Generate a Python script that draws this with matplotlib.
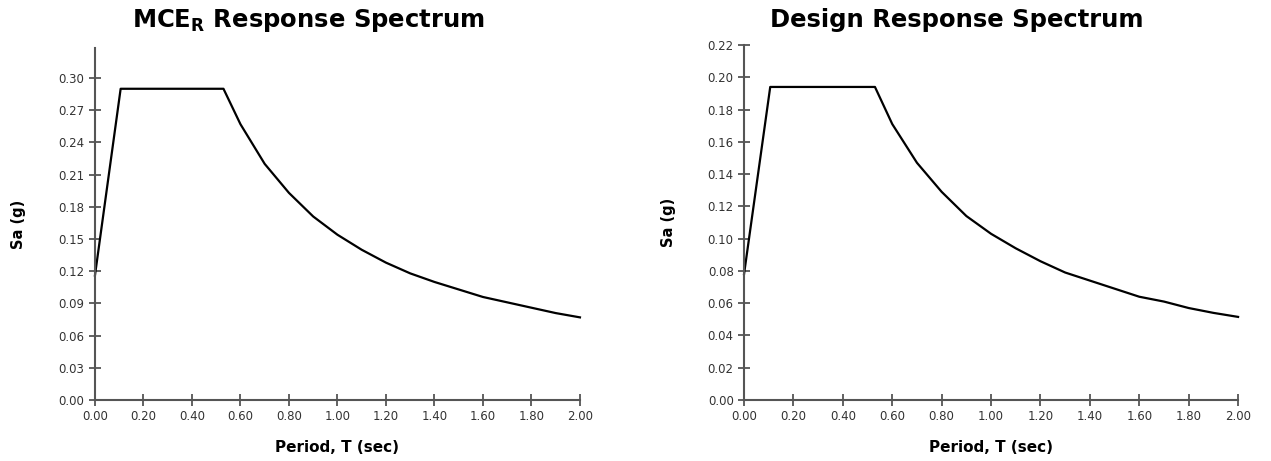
import numpy as np
import matplotlib
matplotlib.use("Agg")
import matplotlib.pyplot as plt

# ---------------- DATA ----------------
period = [0.0, 0.106, 0.53, 0.6, 0.7, 0.8, 0.9, 1.0, 1.1, 1.2, 1.3, 1.4, 1.5, 1.6, 1.7, 1.8, 1.9, 2.0]
sa_mce = [0.116, 0.290, 0.290, 0.257, 0.220, 0.193, 0.171, 0.154, 0.140, 0.128, 0.118, 0.110,
          0.103, 0.096, 0.091, 0.086, 0.081, 0.077]
sa_design = [0.078, 0.194, 0.194, 0.171, 0.147, 0.129, 0.114, 0.103, 0.094, 0.086, 0.079, 0.074,
             0.069, 0.064, 0.061, 0.057, 0.054, 0.0515]
x_ticks = [0.0, 0.2, 0.4, 0.6, 0.8, 1.0, 1.2, 1.4, 1.6, 1.8, 2.0]
mce_yticks = [0.00, 0.03, 0.06, 0.09, 0.12, 0.15, 0.18, 0.21, 0.24, 0.27, 0.30]
design_yticks = [0.00, 0.02, 0.04, 0.06, 0.08, 0.10, 0.12, 0.14, 0.16, 0.18, 0.20, 0.22]

# ---------------- PLOT ----------------
fig = plt.figure(figsize=(12.71, 4.61), dpi=100)
ax1 = fig.add_axes([0.0747, 0.1323, 0.3816, 0.7636])
ax2 = fig.add_axes([0.5854, 0.1323, 0.3887, 0.7701])

spine_col = "#555555"

def style_axis(ax, yticks, ylim_top, title, title_x, title_y):
    ax.set_xlim(0, 2.0)
    ax.set_ylim(0, ylim_top)
    ax.set_xticks(x_ticks)
    ax.set_yticks(yticks)
    ax.set_xticklabels([f"{v:.2f}" for v in x_ticks])
    ax.set_yticklabels([f"{v:.2f}" for v in yticks])
    for s in ["top", "right"]:
        ax.spines[s].set_visible(False)
    for s in ["left", "bottom"]:
        ax.spines[s].set_color(spine_col)
        ax.spines[s].set_linewidth(1.5)
    ax.tick_params(direction="inout", length=9, width=1.3, color=spine_col,
                   labelsize=8.5, labelcolor="#333333", pad=3)
    ax.set_xlabel("Period, T (sec)", fontsize=11, fontweight="bold", labelpad=12)
    ax.set_ylabel("Sa (g)", fontsize=10.5, fontweight="bold", labelpad=23)
    # title sits a little left of the axes centre in the original
    fig.text(title_x, title_y, title, fontsize=17.5, fontweight="bold",
             ha="center", va="center")

ax1.plot(period, sa_mce, color="black", linewidth=1.6, clip_on=False)
ax2.plot(period, sa_design, color="black", linewidth=1.6, clip_on=False)

style_axis(ax1, mce_yticks, 0.328, r"MCE$_{\mathbf{R}}$ Response Spectrum", 308 / 1271, 1 - 21 / 461)
style_axis(ax2, design_yticks, 0.22, "Design Response Spectrum", 957 / 1271, 1 - 20 / 461)

fig.savefig("out.png", dpi=100)
